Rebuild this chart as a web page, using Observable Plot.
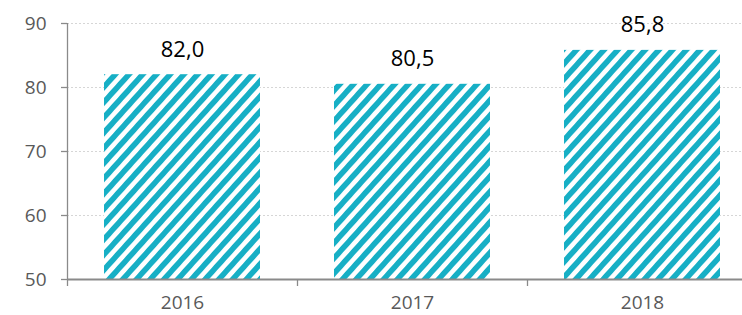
<!DOCTYPE html>
<html>
<head>
<meta charset="utf-8">
<script src="https://cdn.jsdelivr.net/npm/d3@7"></script>
<script src="https://cdn.jsdelivr.net/npm/@observablehq/plot@0.6"></script>
<style>
  html, body { margin: 0; padding: 0; background: white; }
</style>
</head>
<body>
<div id="chart"></div>
<script>
const years = ["2016", "2017", "2018"];
const values = [82.0, 80.5, 85.8];
const yTicks = [50, 60, 70, 80, 90];
const gridTicks = [60, 70, 80, 90];

const data = years.map((year, i) => ({year, value: values[i]}));
const fmt = d => d.toFixed(1).replace(".", ",");
const teal = "#17afc5";

const chart = Plot.plot({
  width: 742,
  height: 315,
  marginLeft: 67,
  marginRight: -15,
  marginTop: 23,
  marginBottom: 36,
  style: {fontFamily: "'Open Sans', sans-serif", background: "white"},
  x: {domain: years, paddingInner: 0.32, paddingOuter: 0.16, axis: null, label: null},
  y: {domain: [50, 90], axis: null, label: null},
  marks: [
    Plot.gridY(gridTicks, {stroke: "#d6d6d6", strokeOpacity: 1, strokeDasharray: "2,2", strokeWidth: 1}),
    Plot.barY(data, {x: "year", y1: 50, y2: "value", fill: "white"}),
    Plot.barY(data, {x: "year", y1: 50, y2: "value", fill: "url(#hatch)"}),
    Plot.text(data, {x: "year", y: "value", text: d => fmt(d.value), lineAnchor: "bottom", dy: -18, fontSize: 22, fill: "#000"}),
    Plot.ruleY([50], {stroke: "#8a8a8a", strokeWidth: 2}),
    Plot.ruleX([years[0]], {x: d => d, dx: -115, y1: 50, y2: 90, stroke: "#8a8a8a", strokeWidth: 1.3}),
    Plot.ruleX(years, {x: d => d, dx: -115, y1: 50, y2: 50, insetBottom: -7, stroke: "#8a8a8a", strokeWidth: 1.3}),
    Plot.axisY(yTicks, {tickSize: 6, tickPadding: 15, fontSize: 19, fill: "#595959", stroke: "#8a8a8a", strokeWidth: 1.3, label: null}),
    Plot.axisX({tickSize: 0, tickPadding: 16, fontSize: 19, fill: "#595959", label: null})
  ]
});

const svg = d3.select(chart);
const defs = svg.insert("defs", ":first-child");
const pat = defs.append("pattern")
  .attr("id", "hatch")
  .attr("patternUnits", "userSpaceOnUse")
  .attr("width", 10.2)
  .attr("height", 10)
  .attr("patternTransform", "rotate(42)");
pat.append("rect").attr("x", 0).attr("y", 0).attr("width", 5.6).attr("height", 10).attr("fill", teal);

document.getElementById("chart").appendChild(chart);
</script>
</body>
</html>
